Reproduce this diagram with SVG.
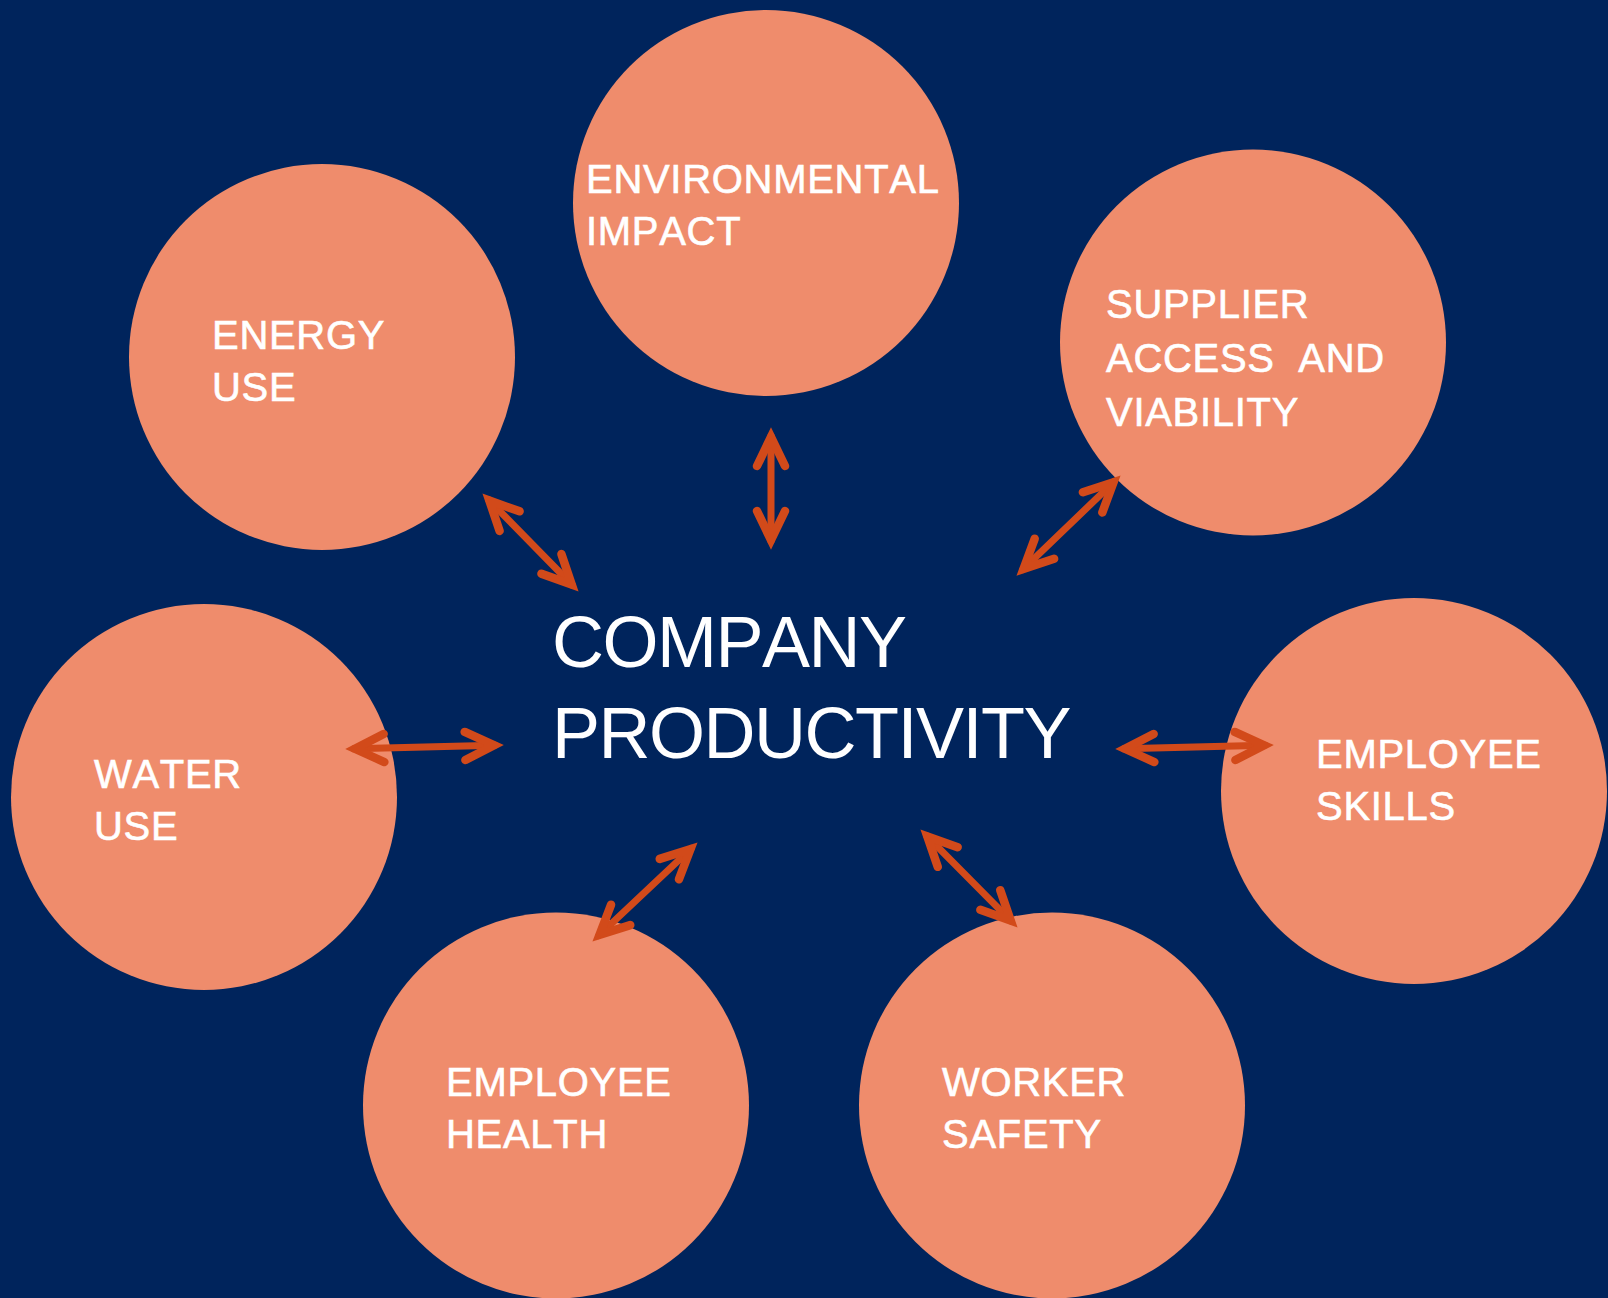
<svg xmlns="http://www.w3.org/2000/svg" width="1608" height="1298" viewBox="0 0 1608 1298">
<style>
.bg{fill:#00245C}
.node circle{fill:#EF8C6C}
.lbl{font-family:"Liberation Sans",Arial,sans-serif;font-size:40px;fill:#FFFFFF;font-kerning:none;letter-spacing:0.7px;stroke:#FFFFFF;stroke-width:0.6}
.title{font-family:"Liberation Sans",Arial,sans-serif;font-size:72px;fill:#FFFFFF;letter-spacing:-1.5px;font-kerning:none}
.arr line,.arr polyline{stroke:#D24A1A;fill:none;stroke-linecap:round;stroke-linejoin:miter}
.arr line{stroke-width:7}
.arr polyline{stroke-width:8.5}
</style>
<rect class="bg" x="0" y="0" width="1608" height="1298"/>
<g id="node-environmental" class="node"><circle cx="766" cy="203" r="193"/><text class="lbl" x="586" y="193">ENVIRONMENTAL</text><text class="lbl" x="586" y="245">IMPACT</text></g>
<g id="node-energy" class="node"><circle cx="322" cy="357" r="193"/><text class="lbl" x="212" y="349">ENERGY</text><text class="lbl" x="212" y="401">USE</text></g>
<g id="node-supplier" class="node"><circle cx="1253" cy="342.5" r="193"/><text class="lbl" x="1106" y="318">SUPPLIER</text><text class="lbl" x="1106" y="372" xml:space="preserve">ACCESS  AND</text><text class="lbl" x="1106" y="426">VIABILITY</text></g>
<g id="node-water" class="node"><circle cx="204" cy="797" r="193"/><text class="lbl" x="94" y="788">WATER</text><text class="lbl" x="94" y="840">USE</text></g>
<g id="node-skills" class="node"><circle cx="1414" cy="791" r="193"/><text class="lbl" x="1316" y="768">EMPLOYEE</text><text class="lbl" x="1316" y="820">SKILLS</text></g>
<g id="node-health" class="node"><circle cx="556" cy="1105.5" r="193"/><text class="lbl" x="446" y="1096">EMPLOYEE</text><text class="lbl" x="446" y="1148">HEALTH</text></g>
<g id="node-safety" class="node"><circle cx="1052" cy="1105.5" r="193"/><text class="lbl" x="942" y="1096">WORKER</text><text class="lbl" x="942" y="1148">SAFETY</text></g>
<g id="node-center"><text class="title" x="552" y="667">COMPANY</text><text class="title" x="552" y="758">PRODUCTIVITY</text></g>
<g id="connectors" class="arr">
<g transform="translate(771,428) rotate(90)"><line x1="8" y1="0" x2="113" y2="0"/><polyline points="38,-14 9,0 38,14"/><polyline points="83,-14 112,0 83,14"/></g>
<g transform="translate(483,494) rotate(45.6)"><line x1="8" y1="0" x2="127.8" y2="0"/><polyline points="38,-14 9,0 38,14"/><polyline points="97.8,-14 126.8,0 97.8,14"/></g>
<g transform="translate(1120,476) rotate(136.1)"><line x1="8" y1="0" x2="134.9" y2="0"/><polyline points="38,-14 9,0 38,14"/><polyline points="104.9,-14 133.9,0 104.9,14"/></g>
<g transform="translate(346,749) rotate(-1.46)"><line x1="8" y1="0" x2="149.1" y2="0"/><polyline points="38,-14 9,0 38,14"/><polyline points="119.1,-14 148.1,0 119.1,14"/></g>
<g transform="translate(1116,749) rotate(-1.46)"><line x1="8" y1="0" x2="149.1" y2="0"/><polyline points="38,-14 9,0 38,14"/><polyline points="119.1,-14 148.1,0 119.1,14"/></g>
<g transform="translate(697,843) rotate(136.7)"><line x1="8" y1="0" x2="134.9" y2="0"/><polyline points="38,-14 9,0 38,14"/><polyline points="104.9,-14 133.9,0 104.9,14"/></g>
<g transform="translate(921,830) rotate(45.3)"><line x1="8" y1="0" x2="128.5" y2="0"/><polyline points="38,-14 9,0 38,14"/><polyline points="98.5,-14 127.5,0 98.5,14"/></g>
</g>
</svg>
